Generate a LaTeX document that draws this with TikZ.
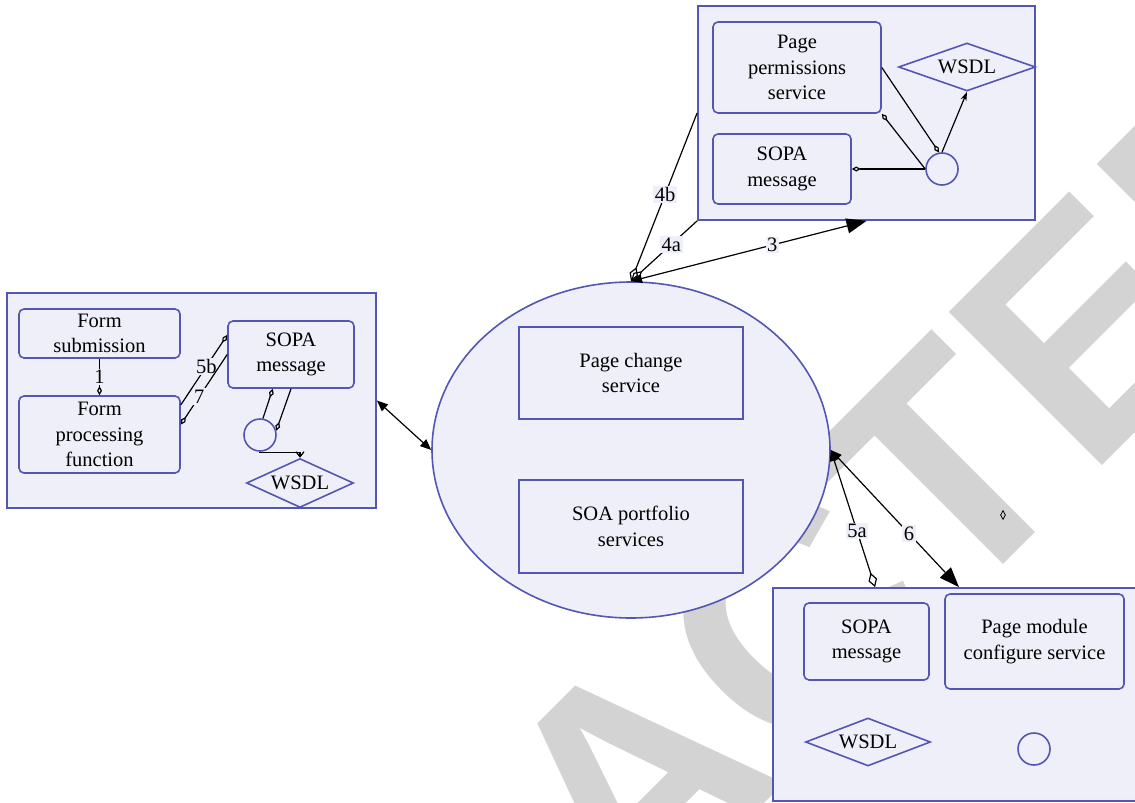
\documentclass[tikz,border=0pt]{standalone}
\usepackage{fontspec}
\setmainfont{Liberation Serif}
\newfontfamily\wmfont{Liberation Sans}
\usetikzlibrary{shapes.geometric,arrows.meta,calc}
\definecolor{edgeblue}{RGB}{84,86,180}
\definecolor{lav}{RGB}{239,239,250}
\definecolor{wmgray}{RGB}{211,211,211}
\tikzset{
  sdia/.tip={Diamond[open, length=9pt, width=5pt]},
  bdia/.tip={Diamond[open, length=15pt, width=9pt]},
  stri/.tip={Triangle[length=11pt, width=9pt]},
  btri/.tip={Triangle[length=20pt, width=15pt]},
  stl/.tip={Stealth[length=9pt, width=6pt]},
  barb/.tip={Straight Barb[length=5pt, width=8pt]},
}
\begin{document}
\begin{tikzpicture}[x=1pt,y=-1pt,
  every node/.style={font=\fontsize{20.5}{25.5}\selectfont},
  container/.style={draw=edgeblue, fill=lav, line width=1.8pt, inner sep=0},
  rbox/.style={draw=edgeblue, fill=lav, line width=1.6pt, rounded corners=5pt, align=center, inner sep=0},
  sbox/.style={draw=edgeblue, fill=lav, line width=1.6pt, align=center, inner sep=0},
  wsdl/.style={diamond, draw=edgeblue, fill=lav, line width=1.6pt, aspect=2.2, inner sep=0},
  port/.style={circle, draw=edgeblue, fill=lav, line width=1.6pt, minimum size=32pt, inner sep=0},
  conn/.style={draw=black, line width=1.2pt},
  lbl/.style={fill=lav, inner sep=1.5pt},
]
\useasboundingbox (0,0) rectangle (1135,803);
\clip (0,0) rectangle (1135,803);

% background stamp
\node[rotate=45, anchor=base, text=wmgray, inner sep=0,
      font=\wmfont\bfseries\fontsize{315}{315}\selectfont] (mark) at (778,790) {REDACTED};

% left group
\node[container, minimum width=369pt, minimum height=215pt] (L) at (191.5,400.5) {};
\node[rbox, minimum width=161pt, minimum height=49pt] (fs) at (99.5,333.5) {Form\\submission};
\node[rbox, minimum width=161pt, minimum height=77pt] (fp) at (99.5,434.5) {Form\\processing\\function};
\node[rbox, minimum width=126pt, minimum height=67pt] (ls) at (291,354.5) {SOPA\\message};
\node[port] (lc) at (260,435) {};
\node[wsdl, minimum width=107pt, minimum height=49pt] (lw) at (300,483) {WSDL};

% central ellipse
\node[ellipse, draw=edgeblue, fill=lav, line width=1.6pt, minimum width=398pt, minimum height=336pt, inner sep=0] (core) at (631,450) {};
\node[sbox, minimum width=224pt, minimum height=92pt] (pcs) at (631,373) {Page change\\service};
\node[sbox, minimum width=224pt, minimum height=93pt] (soa) at (631,526.5) {SOA portfolio\\services};

% top group
\node[container, minimum width=337pt, minimum height=214pt] (T) at (866.5,113) {};
\node[rbox, minimum width=168pt, minimum height=91pt] (pps) at (797,67.5) {Page\\permissions\\service};
\node[rbox, minimum width=138pt, minimum height=70pt] (ts) at (782,169) {SOPA\\message};
\node[wsdl, minimum width=137pt, minimum height=48pt] (tw) at (967,67) {WSDL};
\node[port] (tc) at (942,169) {};

% bottom group
\node[container, minimum width=372pt, minimum height=213pt] (B) at (959,694.5) {};
\node[rbox, minimum width=125pt, minimum height=77pt] (bs) at (866.5,641.5) {SOPA\\message};
\node[rbox, minimum width=179pt, minimum height=95pt] (pmc) at (1034.5,641.5) {Page module\\configure service};
\node[wsdl, minimum width=125pt, minimum height=48pt] (bw) at (868,742) {WSDL};
\node[port] (bc) at (1034,749) {};

% loose marker
\node[diamond, draw=black, line width=0.8pt, inner sep=0, minimum width=5pt, minimum height=9pt] (loose) at (1003,515) {};

% connectors inside the left group
\draw[conn, -sdia] (fs) -- node[lbl]{1} (fp);
\draw[conn, -sdia] (fp.20) -- node[lbl, pos=0.55]{5b} (ls.163);
\draw[conn, -sdia] (ls.180) -- node[lbl, pos=0.6]{7} (fp.7);
\draw[conn, sdia-] (ls.242) -- (lc.80);
\draw[conn, -sdia] (ls.south) -- (lc.15);
\draw[conn, -barb] (lc.south) |- ($(lw.north)+(0,-5)$) -- (lw.north);

% left group to the ellipse
\draw[conn, stri-stri] (L.east) -- (core.west);

% ellipse to the top group
\draw[conn, stri-btri] (core.north) -- node[lbl, pos=0.6]{3} (T.south);
\draw[conn, bdia-] (core.north) -- node[lbl, pos=0.61]{4a} (T.south west);
\draw[conn, bdia-] (core.north) -- node[lbl, pos=0.515]{4b} (T.west);

% connectors inside the top group
\draw[conn, -sdia] (pps.east) -- (tc.100);
\draw[conn, sdia-] (pps.south east) -- (tc.west);
\draw[conn, sdia-] (ts.east) -- (tc.west);
\draw[conn, -stl] (tc.north) -- (tw.south);

% ellipse to the bottom group
\draw[conn, stri-bdia] (core.east) -- node[lbl, pos=0.59]{5a} (B.128);
\draw[conn, stri-btri] (core.east) -- node[lbl, pos=0.61]{6} (B.north);
\end{tikzpicture}
\end{document}
